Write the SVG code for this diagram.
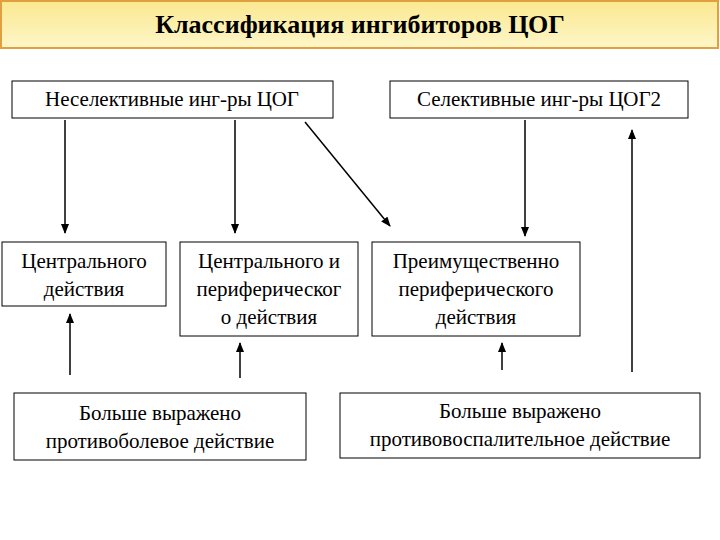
<svg xmlns="http://www.w3.org/2000/svg" width="720" height="540" viewBox="0 0 720 540">
<style>
.b{fill:#fff;stroke:#000;stroke-width:1}
.t{font-family:'Liberation Serif','DejaVu Serif',serif;font-size:21px;text-anchor:middle;fill:#000}
.c line{stroke:#000;stroke-width:1.5;marker-end:url(#a)}
</style>
<defs>
<linearGradient id="g" x1="0" y1="0" x2="0" y2="1"><stop offset="0" stop-color="#fbe890"/><stop offset="1" stop-color="#fdf6c8"/></linearGradient>
<marker id="a" markerWidth="10" markerHeight="8" refX="9" refY="4" orient="auto" markerUnits="userSpaceOnUse"><path d="M0,0L10,4L0,8z" fill="#000"/></marker>
</defs>
<rect width="720" height="540" fill="#fff"/>
<g id="title"><rect x="1" y="1" width="717" height="47" fill="url(#g)" stroke="#e0a040" stroke-width="2"/>
<text class="t" x="360" y="33" style="font-weight:bold;font-size:26px">Классификация ингибиторов ЦОГ</text></g>
<g id="n1"><rect class="b" x="12" y="81" width="321" height="37"/><text class="t" x="172" y="106">Неселективные инг-ры ЦОГ</text></g>
<g id="n2"><rect class="b" x="390" y="81" width="298" height="37"/><text class="t" x="539" y="106">Селективные инг-ры ЦОГ2</text></g>
<g id="n3"><rect class="b" x="2" y="242" width="164" height="64"/><text class="t" x="84" y="268">Центрального</text><text class="t" x="84" y="296">действия</text></g>
<g id="n4"><rect class="b" x="180" y="242" width="178" height="94"/><text class="t" x="269" y="268">Центрального и</text><text class="t" x="269" y="296">периферическог</text><text class="t" x="269" y="324">о действия</text></g>
<g id="n5"><rect class="b" x="372" y="242" width="208" height="94"/><text class="t" x="476" y="268">Преимущественно</text><text class="t" x="476" y="296">периферического</text><text class="t" x="476" y="324">действия</text></g>
<g id="n6"><rect class="b" x="14" y="393" width="292" height="67"/><text class="t" x="160" y="420">Больше выражено</text><text class="t" x="160" y="448">противоболевое действие</text></g>
<g id="n7"><rect class="b" x="340" y="393" width="360" height="65"/><text class="t" x="520" y="418">Больше выражено</text><text class="t" x="520" y="446">противовоспалительное действие</text></g>
<g class="c" id="connectors">
<line x1="65" y1="120" x2="65" y2="233"/>
<line x1="235" y1="120" x2="235" y2="233"/>
<line x1="305" y1="122" x2="390" y2="226"/>
<line x1="525" y1="120" x2="525" y2="236"/>
<line x1="70" y1="375" x2="70" y2="314"/>
<line x1="240" y1="378" x2="240" y2="343"/>
<line x1="502" y1="370" x2="502" y2="343"/>
<line x1="632" y1="372" x2="632" y2="130"/>
</g>
</svg>
